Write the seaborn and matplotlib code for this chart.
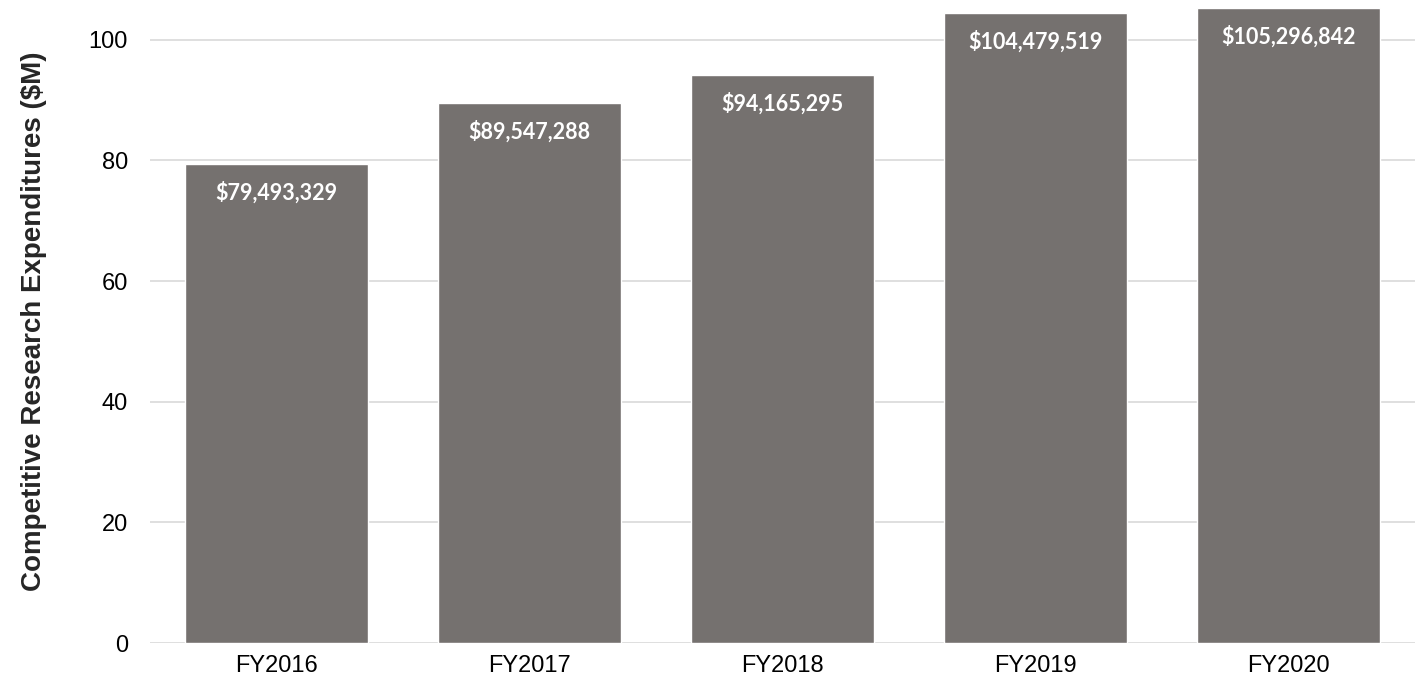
import matplotlib
matplotlib.use("Agg")
import matplotlib.pyplot as plt
import pandas as pd
import seaborn as sns

YEARS = ["FY2016", "FY2017", "FY2018", "FY2019", "FY2020"]
EXPENDITURES = [79493329, 89547288, 94165295, 104479519, 105296842]

BAR_COLOR = "#75716f"
GRID_COLOR = "#d9d9d9"

df = pd.DataFrame({"year": YEARS, "usd": EXPENDITURES})
df["musd"] = df["usd"] / 1e6

sns.set_theme(style="white")
plt.rcParams["font.family"] = ["Liberation Sans", "DejaVu Sans"]

fig = plt.figure(figsize=(14.16, 6.87), dpi=100)
ax = fig.add_axes([150 / 1416, 44 / 687, 1265 / 1416, 643 / 687])

sns.barplot(data=df, x="year", y="musd", color=BAR_COLOR, saturation=1,
            width=0.72, ax=ax, zorder=2)

for i, row in df.iterrows():
    ax.annotate(f"${row['usd']:,.0f}", (i, row["musd"]), xytext=(0, -29),
                textcoords="offset pixels",
                ha="center", va="center", color="white", fontsize=15.5,
                fontweight="bold", family=["Lato", "DejaVu Sans"])

ax.set_ylim(0, 106.6)
ax.set_xlim(-0.5, 4.5)
ax.set_yticks([0, 20, 40, 60, 80, 100])
ax.yaxis.grid(True, color=GRID_COLOR, linewidth=1.2, zorder=0)
ax.set_axisbelow(True)
for s in ax.spines.values():
    s.set_visible(False)
ax.tick_params(axis="both", length=0, labelsize=17, colors="black")
ax.tick_params(axis="y", pad=16)
ax.tick_params(axis="x", pad=9)
ax.set_xlabel("")
ax.set_ylabel("Competitive Research Expenditures ($M)", fontsize=20,
              fontweight="bold", labelpad=30)

fig.savefig("out.png", dpi=100)
